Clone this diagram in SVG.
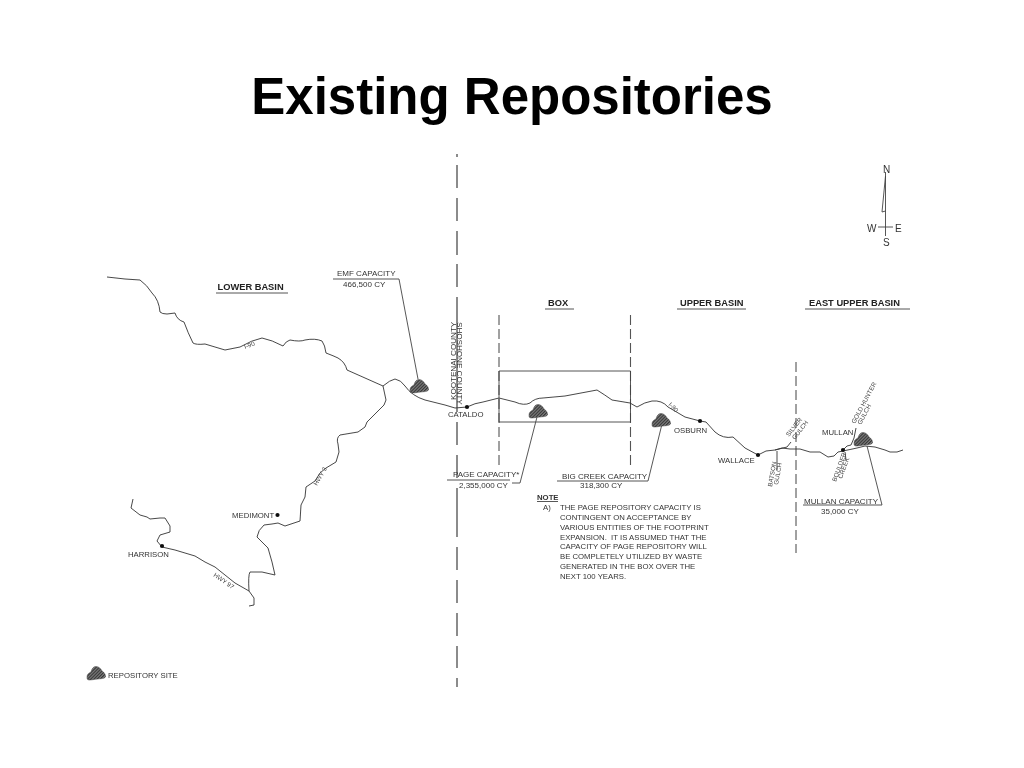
<svg xmlns="http://www.w3.org/2000/svg" width="1024" height="768" viewBox="0 0 1024 768">
<defs>
<pattern id="h" width="2.2" height="2.2" patternUnits="userSpaceOnUse" patternTransform="rotate(-45)"><rect width="2.2" height="2.2" fill="#888"/><rect width="2.2" height="1.2" fill="#333"/></pattern>
<filter id="b" x="-5%" y="-5%" width="110%" height="110%"><feGaussianBlur stdDeviation="0.4"/></filter>
<path id="site" d="M-9,4 C-9,1 -7,0 -5,-1 C-4,-5 -2,-6.500 0,-6.500 C3,-6.500 5,-4 6,-2 C8,-1 10,2 9.500,4 C8,6 5,5.500 2,6 C-2,6.500 -5,7 -7,7 C-9,7 -9,5 -9,4Z" fill="url(#h)" stroke="#444" stroke-width=".5"/>
</defs>
<style>
text{font-family:"Liberation Sans",Arial,sans-serif;fill:#333}
.t{font-size:51px;font-weight:700;fill:#000}
.h{font-size:9.300px;font-weight:700;fill:#222}
.l{font-size:8px}
.n{font-size:7.750px}
.tiny{font-size:6.300px;fill:#444}
.cty{font-size:8.100px}
.nesw{font-size:10px}
.r{fill:none;stroke:#333;stroke-width:.9;stroke-linejoin:round}
.u{fill:none;stroke:#444;stroke-width:.9}
.d{fill:none;stroke:#555;stroke-width:1.1}
.c{fill:#111}
</style>
<text id="title" class="t" x="512" y="113.500" text-anchor="middle">Existing Repositories</text>
<g filter="url(#b)">
<g id="connectors">
<path id="county-line" d="M457,154V157M457,165V188M457,198V221M457,231V255M457,264V287M457,297V412M457,422V445M457,455V478M457,488V537M457,547V570M457,580V603M457,613V636M457,646V668M457,678V687" fill="none" stroke="#666" stroke-width="1.500"/>
<path d="M499,315V465M630.500,315V465" class="d" stroke-dasharray="10 4"/>
<path d="M499,371V422M630.500,371V422" class="u"/>
<path d="M796,362V553" class="d" stroke-dasharray="10 4"/>
<path d="M499,371H630.500M499,422H630.500" class="u"/>
<path id="i90" class="r" d="M107,277 L125,279 L140,280 Q147,285 152,293 Q159,300 160,312 Q162,314 167,314 L175,313 Q177,320 184,322 Q188,333 193,343 Q196,345 205,344 L225,350 L240,347 Q252,340 262,338 Q272,340 283,346 Q286,341 290,340 Q300,342 305,340 Q315,338 322,341 Q325,345 326,353 Q334,356 338,358 Q345,362 347,370 L383,386 Q390,380 395,379 Q401,380 405,386 Q412,396 425,400 L445,405 L455,408 L467,407 Q475,403 483,402 L499,398 L515,402 Q524,406 530,403 Q535,398 543,398 L565,396 L597,390 Q605,395 612,400 L630,403 L637,407 Q645,402 652,401 Q662,400 668,407 L685,417 L700,421 L706,422 L715,432 Q723,439 733,437 L745,448 L758,455 L766,451 L775,450 L782,448 L790,449 L800,449 L810,452 L820,452 L828,457 L834,456 L838,452 L843,451 L857,448 L865,446 L875,447 L885,450 L890,452 L897,452 L903,450"/>
<path id="hwy3" class="r" d="M383,386 L386,400 L384,405 L372,417 L367,422 L365,427 L358,432 L340,435 Q336,438 338,444 L339,452 L336,462 L326,468 L320,473 L315,481 L306,487 L305,497 L301,505 L300,521 L285,526 L278,523 L272,524 L264,525 Q258,530 257,537 L268,548 L272,562 L275,575 L262,572 L250,572 Q248,575 249,591"/>
<path id="hwy97" class="r" d="M133,499 L131,508 L140,515 L147,517 L150,519 L160,518 L165,518 L170,526 L170,532 L160,535 L157,541 L162,547 L175,550 L185,553 L195,556 L205,562 L215,567 L225,575 L235,583 L249,591 L254,598 L254,605 L249,606"/>
<path class="r" d="M775,450 L787,447 L791,442M777,451 L777,470M851,445 L847,446 L844,449M851,445 L854,438 L856,428M845,452 L846,460"/>
<path class="u" d="M333,279 H399 L418,379M447,480 H510M512,483 H520 L537,417M557,481 H648 L662,424M803,505 H882 L867,446"/>
</g>
<g id="site-emf"><use href="#site" x="419" y="386"/></g>
<g id="site-page"><use href="#site" x="538" y="411"/></g>
<g id="site-bigcreek"><use href="#site" x="661" y="420"/></g>
<g id="site-mullan"><use href="#site" x="863" y="439"/></g>
<g id="site-legend"><use href="#site" x="96" y="673"/></g>
<g id="cities">
<circle class="c" cx="467" cy="407" r="2.100"/>
<circle class="c" cx="700" cy="421" r="2.100"/>
<circle class="c" cx="758" cy="455" r="2.100"/>
<circle class="c" cx="843" cy="450" r="2.100"/>
<circle class="c" cx="277.500" cy="515" r="2.100"/>
<circle class="c" cx="162" cy="546" r="2.100"/>
</g>
<g id="labels">
<text class="n" x="448" y="417">CATALDO</text>
<text class="n" x="674" y="433">OSBURN</text>
<text class="n" x="718" y="463">WALLACE</text>
<text class="n" x="822" y="435">MULLAN</text>
<text class="n" x="232" y="517.500">MEDIMONT</text>
<text class="n" x="128" y="557">HARRISON</text>
<text class="n" x="108" y="678">REPOSITORY SITE</text>
<text class="h" x="217.500" y="290">LOWER BASIN</text><path class="u" d="M216,293H288"/>
<text class="h" x="548" y="306">BOX</text><path class="u" d="M545,309H574"/>
<text class="h" x="680" y="306">UPPER BASIN</text><path class="u" d="M677,309H746"/>
<text class="h" x="809" y="305.500">EAST UPPER BASIN</text><path class="u" d="M805,309H910"/>
<text class="l" x="337" y="276">EMF CAPACITY</text>
<text class="l" x="343" y="287">466,500 CY</text>
<text class="l" x="453" y="477">PAGE CAPACITY*</text>
<text class="l" x="459" y="488">2,355,000 CY</text>
<text class="l" x="562" y="479">BIG CREEK CAPACITY</text>
<text class="l" x="580" y="488">318,300 CY</text>
<text class="l" x="804" y="504">MULLAN CAPACITY</text>
<text class="l" x="821" y="514">35,000 CY</text>
<text class="n" x="537" y="500" font-weight="700">NOTE</text><path class="u" d="M537,501.500H558"/>
<text class="n" x="543" y="510">A)</text>
<text class="n" x="560" y="510">THE PAGE REPOSITORY CAPACITY IS</text>
<text class="n" x="560" y="520">CONTINGENT ON ACCEPTANCE BY</text>
<text class="n" x="560" y="529.500">VARIOUS ENTITIES OF THE FOOTPRINT</text>
<text class="n" x="560" y="539.500" xml:space="preserve">EXPANSION.  IT IS ASSUMED THAT THE</text>
<text class="n" x="560" y="549">CAPACITY OF PAGE REPOSITORY WILL</text>
<text class="n" x="560" y="559">BE COMPLETELY UTILIZED BY WASTE</text>
<text class="n" x="560" y="569">GENERATED IN THE BOX OVER THE</text>
<text class="n" x="560" y="579">NEXT 100 YEARS.</text>
<text class="cty" transform="translate(456,400) rotate(-90)">KOOTENAI COUNTY</text>
<text class="cty" transform="translate(457,322) rotate(90)">SHOSHONE COUNTY</text>
<text class="tiny" transform="translate(245,349) rotate(-20)">I-90</text>
<text class="tiny" transform="translate(668,405) rotate(45)">I-90</text>
<text class="tiny" transform="translate(317,486) rotate(-60)">HWY 3</text>
<text class="tiny" transform="translate(213,576) rotate(35)">HWY 97</text>
<text class="tiny" transform="translate(772,487) rotate(-80)">BATSON</text>
<text class="tiny" transform="translate(778,485) rotate(-80)">GULCH</text>
<text class="tiny" transform="translate(789,437) rotate(-52)">SILVER</text>
<text class="tiny" transform="translate(795,440) rotate(-52)">GULCH</text>
<text class="tiny" transform="translate(836,482) rotate(-70)">BOULDER</text>
<text class="tiny" transform="translate(842,479) rotate(-70)">CREEK</text>
<text class="tiny" transform="translate(855,424) rotate(-62)">GOLD HUNTER</text>
<text class="tiny" transform="translate(861,425) rotate(-62)">GULCH</text>
</g>
<g id="north-arrow">
<path class="u" d="M885.500,172V236M878,227H893M885.500,176L882,212L885.500,211"/>
<text class="nesw" x="883" y="173">N</text>
<text class="nesw" x="867" y="231.500">W</text>
<text class="nesw" x="895" y="231.500">E</text>
<text class="nesw" x="883" y="246">S</text>
</g>
</g>
</svg>
